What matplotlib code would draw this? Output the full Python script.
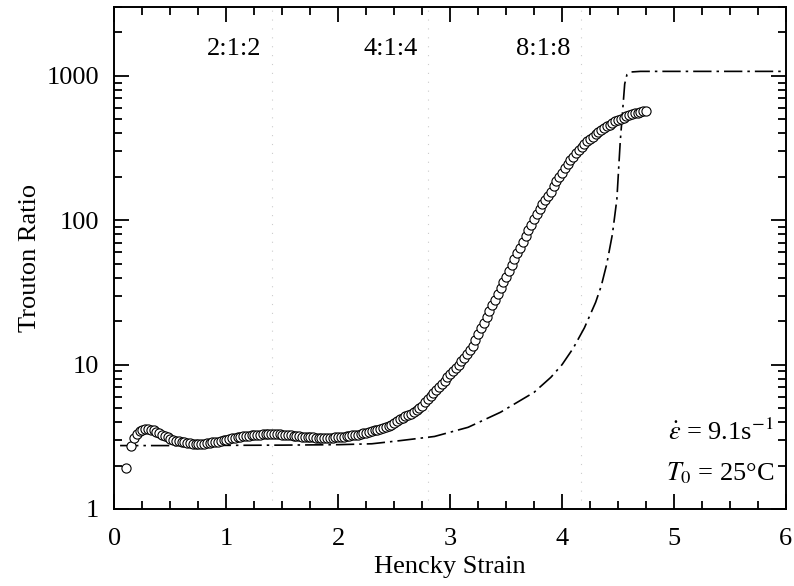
import matplotlib
matplotlib.use('Agg')
import matplotlib.pyplot as plt
from matplotlib.ticker import FixedLocator, LogLocator, NullFormatter

plt.rcParams['font.family'] = ['Liberation Serif', 'DejaVu Serif']
plt.rcParams['mathtext.fontset'] = 'stix'

strain = [0.105, 0.145, 0.175, 0.200, 0.225, 0.250, 0.275, 0.300, 0.325,
          0.350, 0.375, 0.400, 0.425, 0.450, 0.475, 0.500, 0.525, 0.550, 0.575,
          0.600, 0.625, 0.650, 0.675, 0.700, 0.725, 0.750, 0.775, 0.800, 0.825,
          0.850, 0.875, 0.900, 0.925, 0.950, 0.975, 1.000, 1.025, 1.050, 1.075,
          1.100, 1.125, 1.150, 1.175, 1.200, 1.225, 1.250, 1.275, 1.300, 1.325,
          1.350, 1.375, 1.400, 1.425, 1.450, 1.475, 1.500, 1.525, 1.550, 1.575,
          1.600, 1.625, 1.650, 1.675, 1.700, 1.725, 1.750, 1.775, 1.800, 1.825,
          1.850, 1.875, 1.900, 1.925, 1.950, 1.975, 2.000, 2.025, 2.050, 2.075,
          2.100, 2.125, 2.150, 2.175, 2.200, 2.225, 2.250, 2.275, 2.300, 2.325,
          2.350, 2.375, 2.400, 2.425, 2.450, 2.475, 2.500, 2.525, 2.550, 2.575,
          2.600, 2.625, 2.650, 2.675, 2.700, 2.725, 2.750, 2.775, 2.800, 2.825,
          2.850, 2.875, 2.900, 2.925, 2.950, 2.975, 3.000, 3.025, 3.050, 3.075,
          3.100, 3.125, 3.150, 3.175, 3.200, 3.225, 3.250, 3.275, 3.300, 3.325,
          3.350, 3.375, 3.400, 3.425, 3.450, 3.475, 3.500, 3.525, 3.550, 3.575,
          3.600, 3.625, 3.650, 3.675, 3.700, 3.725, 3.750, 3.775, 3.800, 3.825,
          3.850, 3.875, 3.900, 3.925, 3.950, 3.975, 4.000, 4.025, 4.050, 4.075,
          4.100, 4.125, 4.150, 4.175, 4.200, 4.225, 4.250, 4.275, 4.300, 4.325,
          4.350, 4.375, 4.400, 4.425, 4.450, 4.475, 4.500, 4.525, 4.550, 4.575,
          4.600, 4.625, 4.650, 4.675, 4.700, 4.725, 4.750]
trouton = [1.93, 2.72, 3.08, 3.30, 3.45, 3.52, 3.56, 3.57, 3.55,
           3.50, 3.43, 3.35, 3.27, 3.20, 3.13, 3.07, 3.02, 2.98, 2.95,
           2.92, 2.89, 2.87, 2.85, 2.84, 2.83, 2.83, 2.83, 2.84, 2.85,
           2.87, 2.89, 2.91, 2.93, 2.96, 2.99, 3.02, 3.05, 3.08, 3.10,
           3.13, 3.15, 3.18, 3.20, 3.22, 3.24, 3.25, 3.27, 3.28, 3.29,
           3.30, 3.31, 3.31, 3.31, 3.30, 3.29, 3.28, 3.26, 3.25, 3.23,
           3.22, 3.20, 3.19, 3.17, 3.16, 3.15, 3.14, 3.13, 3.12, 3.11,
           3.11, 3.11, 3.11, 3.11, 3.12, 3.13, 3.14, 3.15, 3.17, 3.19,
           3.21, 3.23, 3.25, 3.27, 3.30, 3.34, 3.38, 3.42, 3.46, 3.50,
           3.55, 3.60, 3.65, 3.70, 3.75, 3.84, 3.94, 4.06, 4.19, 4.28,
           4.38, 4.48, 4.58, 4.71, 4.85, 5.01, 5.18, 5.48, 5.81, 6.10,
           6.40, 6.69, 7.00, 7.37, 7.76, 8.16, 8.59, 9.04, 9.51, 10.0,
           10.6, 11.2, 11.9, 12.7, 13.5, 14.8, 16.2, 17.8, 19.5, 21.4,
           23.4, 25.7, 28.2, 30.9, 33.9, 37.2, 40.7, 44.7, 49.0, 53.7,
           58.9, 64.6, 70.8, 77.6, 85.1, 93.3, 102, 111, 120, 129,
           138, 148, 158, 172, 186, 200, 214, 229, 245, 260,
           275, 292, 309, 324, 339, 353, 367, 380, 394, 408,
           422, 435, 447, 460, 473, 484, 495, 505, 515, 524,
           533, 542, 550, 556, 562, 568, 573]

# model prediction (dash-dot line)
model_strain = [0.05, 0.5, 1.0, 1.5, 2.0, 2.3, 2.56, 2.86, 3.16, 3.45,
                3.75, 3.9, 4.0, 4.1, 4.2, 4.3, 4.35, 4.4, 4.45, 4.49,
                4.52, 4.56, 4.58, 4.62, 4.7, 6.0]
model_trouton = [2.75, 2.75, 2.76, 2.77, 2.79, 2.83, 2.98, 3.18, 3.68, 4.68,
                 6.43, 8.17, 10.0, 13.0, 18.0, 27.0, 35.0, 50.0, 80.0, 140,
                 350, 880, 1020, 1065, 1075, 1075]

ratio_x = [1.41, 2.80, 4.17]
ratio_labels = ['2:1:2', '4:1:4', '8:1:8']
ratio_label_x = [1.07, 2.47, 3.83]

fig = plt.figure(figsize=(7.94, 5.86), dpi=100)
ax = fig.add_axes([0.1442, 0.1314, 0.8455, 0.8566])

for xv in ratio_x:
    ax.axvline(xv, color='0.8', lw=0.8, linestyle=(0, (1, 7)), zorder=0)

ax.plot(model_strain, model_trouton, color='black', lw=1.2,
        dashes=(11, 3, 1.5, 3))
ax.plot(strain, trouton, 'o', mfc='white', mec='black', mew=0.8, ms=6.6,
        linestyle='none')

ax.set_yscale('log')
ax.set_xlim(0, 6)
ax.set_ylim(1, 3000)

ax.xaxis.set_major_locator(FixedLocator([0, 1, 2, 3, 4, 5, 6]))
ax.xaxis.set_minor_locator(FixedLocator([i * 0.25 for i in range(25)]))
ax.yaxis.set_minor_locator(LogLocator(base=10, subs=range(2, 10), numticks=20))
ax.yaxis.set_minor_formatter(NullFormatter())
ax.set_yticks([1, 10, 100, 1000])
ax.set_yticklabels(['1', '10', '100', '1000'])

ax.tick_params(which='both', direction='in', top=True, right=True,
               labelsize=19, width=1.3)
ax.tick_params(which='major', length=11)
ax.tick_params(which='minor', length=6)
ax.tick_params(axis='x', pad=14)
ax.tick_params(axis='y', pad=11)
for s in ax.spines.values():
    s.set_linewidth(1.4)

ax.set_xlabel('Hencky Strain', fontsize=19, labelpad=4)
ax.set_ylabel('Trouton Ratio', fontsize=19, labelpad=4)

for lx, lab in zip(ratio_label_x, ratio_labels):
    ax.text(lx, 0.916, lab, transform=ax.get_xaxis_transform(),
            ha='center', va='center', fontsize=19)

ax.text(0.982, 0.153, r'$\dot{\varepsilon}$ = 9.1s$^{-1}$', transform=ax.transAxes,
        ha='right', va='center', fontsize=19)
ax.text(0.982, 0.072, r'$T_0$ = 25°C', transform=ax.transAxes,
        ha='right', va='center', fontsize=19)

fig.savefig('out.png', dpi=100)
